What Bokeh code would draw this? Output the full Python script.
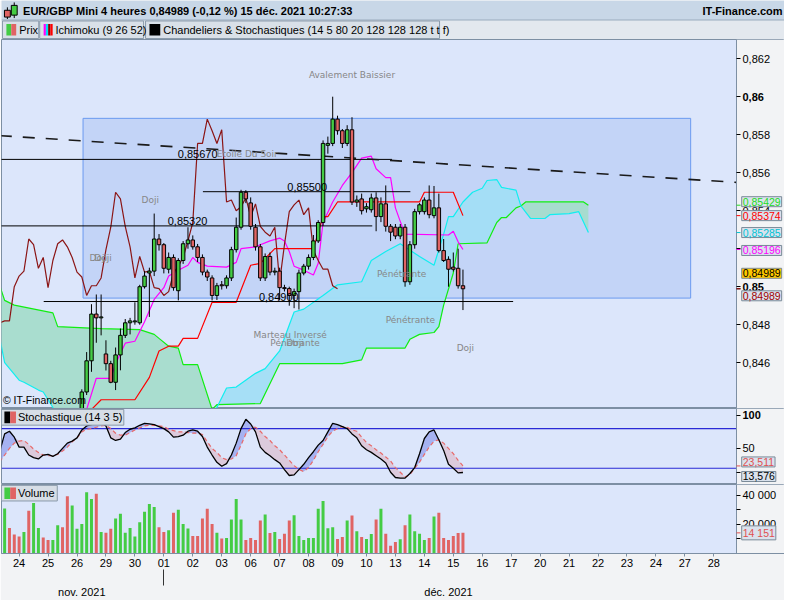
import numpy as np
from bokeh.plotting import figure
from bokeh.models import Range1d, FixedTicker, LinearAxis
from bokeh.layouts import column
from bokeh.embed import file_html
from bokeh.resources import INLINE
from bokeh.core.properties import value

# ---------------- texts ----------------
TITLE = "EUR/GBP Mini 4 heures 0,84989 (-0,12 %) 15 déc. 2021 10:27:33"
SITE = "IT-Finance.com"
LEGEND_PRIX = "Prix"
LEGEND_ICHI = "Ichimoku (9 26 52)"
LEGEND_CHAND = "Chandeliers & Stochastiques (14 5 80 20 128 128 128 t t f)"
LEGEND_STOCH = "Stochastique (14 3 5)"
LEGEND_VOL = "Volume"
COPYRIGHT = "© IT-Finance.com"

# ---------------- time axis ----------------
CANDLES_PER_DAY = 6
DAY_LABELS = ["24", "25", "26", "29", "30", "01", "02", "03", "06", "07", "08", "09", "10",
              "13", "14", "15", "16", "17", "20", "21", "22", "23", "24", "27", "28"]
MONTH_LABELS = ["nov. 2021", "déc. 2021"]
MONTH_LABEL_IDX = [19, 95]
MONTH_START_IDX = [36]

# ---------------- candles (4h, index 3 .. 98) ----------------
FIRST_IDX = 3
OPEN = [.84180, .84230, .84200, .84170, .84140, .84160, .84080, .84150, .84190, .84170,
        .84160, .84180, .84220, .84190, .84100, .84200, .84260, .84446, .84610, .84856,
        .84836, .84646, .84595, .84497, .84641, .84744, .84810, .84815, .84810, .85000,
        .85072, .85082, .85251, .85221, .85092, .85154, .84979, .85138, .85226, .85246,
        .85210, .85154, .85077, .85046, .84954, .85010, .85005, .85046, .85195, .85313,
        .85497, .85441, .85313, .85210, .85046, .85159, .85077, .85082, .84995, .84990,
        .84954, .84974, .85072, .85108, .85154, .85241, .85338, .85744, .85754, .85882,
        .85821, .85754, .85826, .85446, .85462, .85410, .85405, .85467, .85369, .85436,
        .85318, .85313, .85267, .85313, .85026, .85221, .85395, .85395, .85456, .85374,
        .85415, .85190, .85144, .85103, .85097, .85005]
HIGH = [.84260, .84250, .84220, .84190, .84180, .84180, .84170, .84200, .84210, .84190,
        .84200, .84240, .84240, .84210, .84230, .84290, .84460, .84656, .84908, .84959,
        .84959, .84718, .84610, .84680, .84780, .84830, .84836, .84918, .85010, .85082,
        .85100, .85385, .85277, .85230, .85180, .85170, .85150, .85240, .85313, .85270,
        .85225, .85170, .85090, .85060, .85020, .85030, .85060, .85210, .85364, .85510,
        .85508, .85470, .85330, .85225, .85175, .85180, .85100, .85100, .85010, .85000,
        .84990, .85090, .85120, .85170, .85272, .85350, .85770, .85790, .86000, .85900,
        .85830, .85850, .85892, .85480, .85490, .85440, .85490, .85497, .85470, .85533,
        .85330, .85330, .85330, .85330, .85240, .85410, .85440, .85470, .85533, .85530,
        .85490, .85251, .85160, .85180, .85200, .85090]
LOW = [.84150, .84180, .84150, .84120, .84120, .84050, .84060, .84130, .84160, .84140,
       .84150, .84170, .84160, .84080, .84090, .84180, .84240, .84430, .84552, .84705,
       .84744, .84559, .84492, .84456, .84560, .84730, .84749, .84800, .84800, .84990,
       .84841, .85056, .85190, .85070, .85070, .84979, .84928, .85120, .85200, .85195,
       .85130, .85060, .85030, .84928, .84930, .84985, .84990, .85030, .85180, .85300,
       .85440, .85300, .85190, .85030, .85030, .85060, .85060, .84928, .84975, .84900,
       .84887, .84880, .85060, .85090, .85140, .85230, .85320, .85700, .85740, .85800,
       .85730, .85740, .85430, .85420, .85380, .85390, .85390, .85292, .85340, .85290,
       .85240, .85250, .85250, .85000, .85010, .85200, .85380, .85380, .85360, .85360,
       .85180, .85130, .85000, .85080, .84990, .84877]
CLOSE = [.84230, .84200, .84170, .84140, .84160, .84080, .84150, .84190, .84170, .84160,
         .84180, .84220, .84190, .84100, .84200, .84260, .84446, .84610, .84856, .84836,
         .84841, .84595, .84497, .84641, .84744, .84810, .84820, .84820, .85000, .85056,
         .85082, .85251, .85221, .85097, .85154, .84995, .85138, .85226, .85246, .85210,
         .85154, .85077, .85051, .84954, .85005, .85005, .85046, .85195, .85313, .85497,
         .85462, .85318, .85210, .85046, .85159, .85077, .85082, .84995, .84990, .84954,
         .84974, .85072, .85108, .85154, .85241, .85338, .85754, .85754, .85882, .85821,
         .85754, .85826, .85446, .85456, .85400, .85421, .85467, .85369, .85436, .85318,
         .85287, .85267, .85313, .85026, .85221, .85395, .85431, .85456, .85379, .85415,
         .85190, .85138, .85092, .85092, .85005, .84989]
VOLUME = [30900, 17500, 13100, 11600, 14700, 29300, 34700, 17500, 10900, 9300,
          9300, 19300, 18000, 39300, 32900, 16900, 20200, 42000, 37300, 40900,
          14700, 14200, 16900, 24000, 27300, 14200, 17500, 11600, 21500, 28700,
          34000, 31800, 18000, 14700, 16000, 28000, 30000, 20200, 17100, 12000,
          12000, 24000, 30700, 20200, 14200, 10200, 10700, 23300, 37300, 23300,
          9300, 10700, 9300, 22700, 26700, 14000, 14700, 10000, 13600, 22700,
          26200, 12000, 9300, 10700, 10700, 30700, 36000, 17300, 18000, 10000,
          11300, 22700, 26000, 15300, 11300, 10000, 13300, 23300, 30700, 13600,
          5300, 7900, 9700, 19300, 26700, 15300, 13600, 9300, 10700, 25300,
          28000, 10700, 9300, 12000, 14000, 14151]

# ---------------- Ichimoku (9 26 52) ----------------
TENKAN_IDX = [20, 23, 30, 33, 35, 37, 39, 40, 43, 46, 51, 54, 56, 59, 67, 69, 70, 72, 89, 90, 96, 98]
TENKAN = [.84328, .84405, .84405, .84523, .84662, .84687, .84687, .84728, .84728, .84918,
          .84918, .85113, .85123, .85200, .85200, .85369, .85369, .85446, .85446, .85497,
          .85497, .85374]
KIJUN_IDX = [20, 22, 25, 26, 28, 30, 32, 34, 36, 37, 39, 41, 42, 43, 45, 49, 51, 52, 55, 58,
             60, 61, 62, 63, 65, 67, 68, 69, 71, 73, 75, 77, 79, 80, 82, 83, 84, 85, 86, 95,
             96, 97, 98]
KIJUN = [.84354, .84518, .84518, .84595, .84703, .84713, .84815, .84933, .84995, .85056,
         .85087, .85113, .85154, .85128, .85108, .85103, .85128, .85200, .85210, .85241,
         .85256, .85241, .85185, .85108, .85087, .85062, .85123, .85338, .85446, .85533,
         .85600, .85677, .85687, .85621, .85574, .85574, .85415, .85344, .85277, .85272,
         .85292, .85236, .85196]
SENKOU_A_IDX = [2, 3, 5, 13, 14, 23, 31, 34, 35, 37, 39, 40, 43, 46, 47, 56, 60, 73, 77, 78,
                86, 87, 89, 92, 93, 94, 96, 97, 103, 105, 106, 107, 109, 110, 111, 123, 124]
SENKOU_A = [.85005, .84928, .84903, .84862, .84790, .84779, .84774, .84749, .84728, .84687,
            .84677, .84590, .84590, .84354, .84379, .84385, .84595, .84595, .84615, .84677,
            .84677, .84723, .84749, .84759, .84790, .84903, .85072, .85226, .85231, .85338,
            .85364, .85364, .85415, .85425, .85446, .85446, .85429]
SENKOU_B_IDX = [2, 3, 6, 7, 10, 11, 13, 15, 45, 47, 49, 51, 55, 57, 60, 63, 65, 69, 72, 77,
                79, 82, 85, 89, 92, 94, 95, 96, 98, 100, 102, 103, 105, 106, 109, 110, 112, 115, 116, 120,
                122, 124]
SENKOU_B = [.84728, .84600, .84508, .84497, .84456, .84446, .84364, .84251, .84251, .84364,
            .84467, .84472, .84544, .84569, .84662, .84867, .84882, .84954, .85010, .85026,
            .85138, .85185, .85226, .85159, .85113, .85277, .85369, .85369, .85446, .85497,
            .85518, .85559, .85564, .85523, .85508, .85425, .85359, .85359, .85379, .85385,
            .85395, .85285]
CLOUD_CROSS_IDX = [46, 110]
CHIKOU_SHIFT = 26

# ---------------- chart annotations ----------------
ZONE_IDX = [19.25, 145.2]
ZONE_PRICE = [0.84940, 0.85886]
LEVEL_PRICE = [0.85670, 0.85500, 0.85320, 0.84922]
LEVEL_TEXT = ["0,85670", "0,85500", "0,85320", "0,84900"]
LEVEL_START = [-2.0, 44.1, -2.0, 11.1]
LEVEL_END = [83.3, 87.1, 79.2, 108.4]
LEVEL_LABEL_IDX = [38.9, 61.6, 36.8, 55.7]
TREND_IDX = [2.0, 154.7]
TREND_PRICE = [0.85795, 0.85549]
PATTERN_TEXT = ["Avalement Baissier", "Etoile Du Soir", "Doji", "Doji", "Doji", "Pénétrante",
                "Pénétrante", "Marteau Inversé", "Pénétrante", "Doji", "Doji"]
PATTERN_IDX = [75.0, 53.3, 33.2, 22.4, 23.4, 85.3, 87.1, 62.2, 63.2, 63.2, 98.5]
PATTERN_PRICE = [0.86116, 0.85696, 0.85455, 0.85153, 0.85153, 0.85066, 0.84825, 0.84748,
                 0.84702, 0.84702, 0.84677]

PRICE_TICKS = [0.846, 0.848, 0.850, 0.852, 0.854, 0.856, 0.858, 0.860, 0.862]
PRICE_BOLD = [0.850, 0.860]
LAST_VALUES = [0.85429, 0.85374, 0.85285, 0.85196, 0.84989, 0.84989]
LAST_COLORS = ["#22dd22", "#ff0000", "#00c4d4", "#ff00ff", "#000000", "#a00000"]
LAST_BG = ["#dae2ed", "#dae2ed", "#dae2ed", "#dae2ed", "#ffc800", "#dae2ed"]
LAST_SHIFT_PX = [3.5, 0, 0, -1, 15.5, -7]

# ---------------- stochastic (14 3 5), index 2 .. 98 ----------------
STOCH_FIRST = 2
STOCH_K = [46, 72, 76, 67, 52, 52, 40, 36, 34, 40, 41, 38, 42, 50, 58, 61, 66, 78, 84, 86,
           88, 90, 84, 66, 62, 64, 74, 79, 81, 85, 88, 87, 86, 83, 80, 75, 67, 68, 70, 76,
           78, 76, 68, 52, 40, 29, 23, 27, 40, 58, 80, 94, 87, 75, 52, 44, 39, 33, 28, 18,
           9, 10, 18, 26, 36, 45, 55, 62, 75, 88, 86, 83, 80, 72, 66, 54, 48, 44, 39, 34,
           28, 14, 6, 5, 5, 12, 21, 42, 65, 75, 78, 63, 47, 26, 20, 13, 13.576]
STOCH_D = [30, 40, 50, 58, 61, 62, 56, 49, 44, 40, 39, 39, 41, 46, 52, 60, 66, 75, 79, 80,
           82, 84, 85, 80, 73, 70, 70, 74, 78, 81, 84, 85, 85, 84, 83, 79, 77, 75, 75, 74,
           73, 73, 71, 60, 50, 44, 36, 33, 34, 39, 55, 72, 80, 82, 76, 68, 62, 54, 48, 40,
           32, 24, 18, 15, 21, 32, 45, 56, 68, 76, 80, 83, 82, 78, 76, 67, 59, 54, 48, 43,
           37, 31, 21, 14, 7, 10, 20, 29, 41, 52, 61, 63, 58, 50, 42, 32, 23.511]
STOCH_LEVELS = [20, 80]
STOCH_TICKS = [50, 100]
STOCH_BOLD = [100]
STOCH_SHIFT_PX = [4, -4]
VOL_TICKS = [10000, 20000, 30000, 40000]

# ---------------- styling ----------------
FONT = "Liberation Sans"
GREEN = "#44cc44"
RED = "#e06464"
PANEL_BG = "#dce6fb"
SIDE_BG = "#f2f3f5"
EDGE = "#7d8fa3"
BOX_BG = "#dae2ed"
X_START, X_END = 2.35, 154.7
DATA_W = 735
FULL_W = 783
PX_PER_IDX = DATA_W / (X_END - X_START)
X_FULL = X_START + FULL_W / PX_PER_IDX

idx = np.arange(FIRST_IDX, FIRST_IDX + len(OPEN))
o, h, l, c = map(np.array, (OPEN, HIGH, LOW, CLOSE))
up = c >= o
body_col = np.where(up, GREEN, RED)

xr = Range1d(X_START, X_FULL)
PX_TO_DATA = {}


def panel(name, height, y0, y1, ticks, overrides, bottom_border=0, x_axis=None):
    p = figure(frame_width=FULL_W, frame_height=height, x_range=xr, y_range=Range1d(y0, y1),
               output_backend="svg", toolbar_location=None, x_axis_location=x_axis,
               y_axis_location=None, min_border_left=1, min_border_right=0,
               min_border_top=0, min_border_bottom=bottom_border,
               background_fill_color=PANEL_BG, border_fill_color=SIDE_BG,
               outline_line_color=EDGE)
    p.grid.visible = False
    p.quad(left=[X_END], right=[X_FULL], bottom=[y0], top=[y1], fill_color=SIDE_BG,
           line_color=None)
    ax = LinearAxis(fixed_location=X_END, ticker=FixedTicker(ticks=ticks),
                    major_label_overrides=overrides, axis_line_color=EDGE,
                    major_tick_out=4, major_tick_in=0, minor_tick_line_color=None,
                    major_label_standoff=2, major_label_text_font=FONT,
                    major_label_text_font_size="11px", major_label_text_color="#000000")
    p.add_layout(ax, "right")
    PX_TO_DATA[name] = (y1 - y0) / height
    return p


def side_boxes(p, name, values, texts, colors, bgs, shifts_px):
    ys = [v + s * PX_TO_DATA[name] for v, s in zip(values, shifts_px)]
    n = len(values)
    p.segment(x0=[X_END] * n, x1=[X_END + 4 / PX_PER_IDX] * n, y0=list(values), y1=list(values),
              line_color=colors, line_width=1, level="overlay")
    r = p.text(x=[X_END + 5.2 / PX_PER_IDX] * n, y=ys, text=texts, text_color=colors,
               background_fill_color=bgs, border_line_color="#7a8a98", padding=1,
               text_font=value(FONT), text_font_size="10.5px", text_baseline="middle",
               text_align="left")
    r.level = "overlay"


def bold_ticks(p, values, texts):
    p.text(x=[X_END + 6 / PX_PER_IDX] * len(values), y=values, text=texts, text_color="#000000",
           text_font=value(FONT), text_font_size="11px", text_font_style="bold",
           text_baseline="middle", text_align="left")


# ================= header =================
hdr = figure(frame_width=784, frame_height=39, x_range=Range1d(0, 800), y_range=Range1d(40, 0),
             output_backend="svg", toolbar_location=None, x_axis_location=None,
             y_axis_location=None, min_border=0, outline_line_color=None,
             background_fill_color="#e3e8ee", border_fill_color="#e3e8ee")
hdr.grid.visible = False
hdr.quad(left=[0], right=[800], top=[0], bottom=[20], fill_color="#c8d7e7", line_color=None)
hdr.segment(x0=[0], x1=[800], y0=[20], y1=[20], line_color="#9aabbd", line_width=1)
hdr.segment(x0=[6, 13], x1=[6, 13], y0=[7, 2], y1=[19, 18], line_color="#000000")
hdr.quad(left=[3, 10], right=[9, 16], top=[10, 5], bottom=[17, 15],
         fill_color=[RED, GREEN], line_color="#000000")
hdr.text(x=[22], y=[10.5], text=[TITLE], text_font=value(FONT), text_font_size="11px",
         text_font_style="bold", text_baseline="middle", text_color="#000000")
hdr.text(x=[797], y=[10.5], text=[SITE], text_font=value(FONT), text_font_size="11px",
         text_font_style="bold", text_baseline="middle", text_align="right", text_color="#000000")
hdr.quad(left=[1, 39, 147], right=[38, 145, 447], top=[21, 21, 21], bottom=[39, 39, 39],
         fill_color="#d9e0e8", line_color="#8a9aaa")
hdr.quad(left=[5, 10], right=[10, 15], top=[24, 24], bottom=[36, 36],
         fill_color=[GREEN, RED], line_color=None)
hdr.quad(left=[43, 45.3, 47.6, 49.9], right=[45.3, 47.6, 49.9, 52.2], top=[24] * 4, bottom=[36] * 4,
         fill_color=["#ff00ff", "#00e0f0", "#8b0000", "#ff0000"], line_color=None)
hdr.quad(left=[151], right=[162], top=[24], bottom=[36], fill_color="#000000", line_color=None)
hdr.text(x=[18, 55, 165], y=[30.5] * 3, text=[LEGEND_PRIX, LEGEND_ICHI, LEGEND_CHAND],
         text_font=value(FONT), text_font_size="11px", text_baseline="middle",
         text_color="#000000")

# ================= main price panel =================
main = panel("main", 369, 0.84359, 0.86301, PRICE_TICKS,
             {t: ("" if t in PRICE_BOLD else f"{t:.3f}".replace(".", ",")) for t in PRICE_TICKS})

main.quad(left=[ZONE_IDX[0]], right=[ZONE_IDX[1]], bottom=[ZONE_PRICE[0]], top=[ZONE_PRICE[1]],
          fill_color="#a9c2f4", fill_alpha=0.5, line_color="#6b9bf0", line_width=1)

a_idx, a_val = np.array(SENKOU_A_IDX), np.array(SENKOU_A)
b_idx, b_val = np.array(SENKOU_B_IDX), np.array(SENKOU_B)
bounds = [int(a_idx.min())] + CLOUD_CROSS_IDX + [int(a_idx.max())]
cloud_cols = ["#a5dccc", "#a2def6", "#a5dccc"]
for k in range(len(bounds) - 1):
    lo, hi = bounds[k], bounds[k + 1]
    ma = (a_idx >= lo) & (a_idx <= hi)
    mb = (b_idx >= lo) & (b_idx <= hi)
    xs = [float(v) for v in a_idx[ma]] + [float(v) for v in b_idx[mb][::-1]]
    ys = [float(v) for v in a_val[ma]] + [float(v) for v in b_val[mb][::-1]]
    main.patch(xs, ys, fill_color=cloud_cols[k], fill_alpha=0.95, line_color=None)

main.line(SENKOU_A_IDX, SENKOU_A, line_color="#11ee11", line_width=1.2)
main.line(SENKOU_B_IDX, SENKOU_B, line_color="#11eef0", line_width=1.2)
main.line(KIJUN_IDX, KIJUN, line_color="#ff00ff", line_width=1.2)
main.line(TENKAN_IDX, TENKAN, line_color="#ff0000", line_width=1.2)
main.line(idx - CHIKOU_SHIFT, c, line_color="#8b1515", line_width=1.2)

main.segment(x0=LEVEL_START, x1=LEVEL_END, y0=LEVEL_PRICE, y1=LEVEL_PRICE,
             line_color="#000000", line_width=1)
main.line(TREND_IDX, TREND_PRICE, line_color="#1a1a1a", line_width=1.6, line_dash="12 11")

main.segment(x0=idx, x1=idx, y0=l, y1=h, line_color="#000000", line_width=1)
main.vbar(x=idx, width=0.72, top=np.maximum(o, c), bottom=np.minimum(o, c),
          fill_color=body_col, line_color="#000000", line_width=1)

main.text(x=LEVEL_LABEL_IDX, y=LEVEL_PRICE, text=LEVEL_TEXT, text_font=value(FONT),
          text_font_size="11px", text_baseline="bottom", y_offset=-1, text_color="#000000")
main.text(x=PATTERN_IDX, y=PATTERN_PRICE, text=PATTERN_TEXT, text_font=value("DejaVu Sans"),
          text_font_size="9px", text_align="center", text_baseline="middle",
          text_color="#878787")
main.text(x=[X_START + 0.3], y=[0.84359 + 3 * PX_TO_DATA["main"]], text=[COPYRIGHT],
          text_font=value(FONT), text_font_size="10.5px", text_baseline="bottom",
          text_color="#000000")

bold_ticks(main, PRICE_BOLD, [f"{t:.2f}".replace(".", ",") for t in PRICE_BOLD])
side_boxes(main, "main", LAST_VALUES, [f"{v:.5f}".replace(".", ",") for v in LAST_VALUES],
           LAST_COLORS, LAST_BG, LAST_SHIFT_PX)

# ================= stochastic panel =================
sto = panel("sto", 76, -4.6, 110.4, STOCH_TICKS,
            {t: ("" if t in STOCH_BOLD else str(t)) for t in STOCH_TICKS})
sx = np.arange(STOCH_FIRST, STOCH_FIRST + len(STOCH_K))
K, D = np.array(STOCH_K, dtype=float), np.array(STOCH_D, dtype=float)
sto.varea(x=sx, y1=D, y2=np.maximum(K, D), fill_color="#9ca8ee", fill_alpha=0.85)
sto.varea(x=sx, y1=K, y2=np.maximum(K, D), fill_color="#dcc6d8", fill_alpha=0.9)
sto.segment(x0=[X_START] * 2, x1=[X_END] * 2, y0=STOCH_LEVELS, y1=STOCH_LEVELS,
            line_color="#2a2ad6", line_width=1.2)
sto.line(sx, D, line_color="#e86a6a", line_width=1.2, line_dash="4 3")
sto.line(sx, K, line_color="#000000", line_width=1.3)
lx0 = X_START
sto.quad(left=[lx0], right=[lx0 + 125 / 4.93], top=[108.9], bottom=[85.2],
         fill_color="#d7dee6", line_color="#8a9aaa")
sto.quad(left=[lx0 + 0.6, lx0 + 1.8], right=[lx0 + 1.8, lx0 + 3.0], top=[106, 106],
         bottom=[88, 88], fill_color=["#000000", RED], line_color=None)
sto.text(x=[lx0 + 3.4], y=[97], text=[LEGEND_STOCH], text_font=value(FONT),
         text_font_size="11px", text_baseline="middle", text_color="#000000")
bold_ticks(sto, STOCH_BOLD, [str(t) for t in STOCH_BOLD])
side_boxes(sto, "sto", [float(D[-1]), float(K[-1])],
           [f"{D[-1]:.3f}".replace(".", ","), f"{K[-1]:.3f}".replace(".", ",")],
           ["#e05050", "#000000"], [BOX_BG, BOX_BG], STOCH_SHIFT_PX)

# ================= volume panel =================
vol = panel("vol", 69, 0, 47300, VOL_TICKS,
            {t: (f"{t:,}".replace(",", " ") if t % 20000 == 0 else "") for t in VOL_TICKS},
            bottom_border=31, x_axis="below")
vol.vbar(x=idx, width=0.62, top=VOLUME, bottom=0, fill_color=body_col, line_color=None)
vol.quad(left=[lx0], right=[lx0 + 57 / 4.93], top=[46700], bottom=[36000],
         fill_color="#d7dee6", line_color="#8a9aaa")
vol.quad(left=[lx0 + 0.6, lx0 + 1.8], right=[lx0 + 1.8, lx0 + 3.0], top=[45300, 45300],
         bottom=[37300, 37300], fill_color=[GREEN, RED], line_color=None)
vol.text(x=[lx0 + 3.4], y=[41300], text=[LEGEND_VOL], text_font=value(FONT),
         text_font_size="11px", text_baseline="middle", text_color="#000000")
side_boxes(vol, "vol", [VOLUME[-1]], [f"{VOLUME[-1]:,}".replace(",", " ")], ["#e05050"],
           [BOX_BG], [0])

day_ticks = [CANDLES_PER_DAY * (k + 1) for k in range(len(DAY_LABELS))]
xa = vol.xaxis[0]
xa.ticker = FixedTicker(ticks=day_ticks)
xa.major_label_overrides = dict(zip(day_ticks, DAY_LABELS))
xa.axis_line_color = EDGE
xa.major_tick_out = 3
xa.major_tick_in = 0
xa.major_tick_line_color = "#7d8fa3"
xa.minor_tick_line_color = None
xa.major_label_standoff = 2
xa.major_label_text_font = FONT
xa.major_label_text_font_size = "11px"
xa.major_label_text_color = "#000000"

mx = LinearAxis(ticker=FixedTicker(ticks=MONTH_LABEL_IDX, minor_ticks=MONTH_START_IDX),
                major_label_overrides=dict(zip(MONTH_LABEL_IDX, MONTH_LABELS)),
                axis_line_color=None, major_tick_line_color=None, major_tick_out=0,
                minor_tick_out=16, minor_tick_in=0, minor_tick_line_color="#333333",
                major_label_standoff=0, major_label_text_font=FONT,
                major_label_text_font_size="11px", major_label_text_color="#000000")
vol.add_layout(mx, "below")

layout = column(hdr, main, sto, vol, spacing=0)
open("out.html", "w").write(file_html(layout, INLINE, title="EUR/GBP"))
